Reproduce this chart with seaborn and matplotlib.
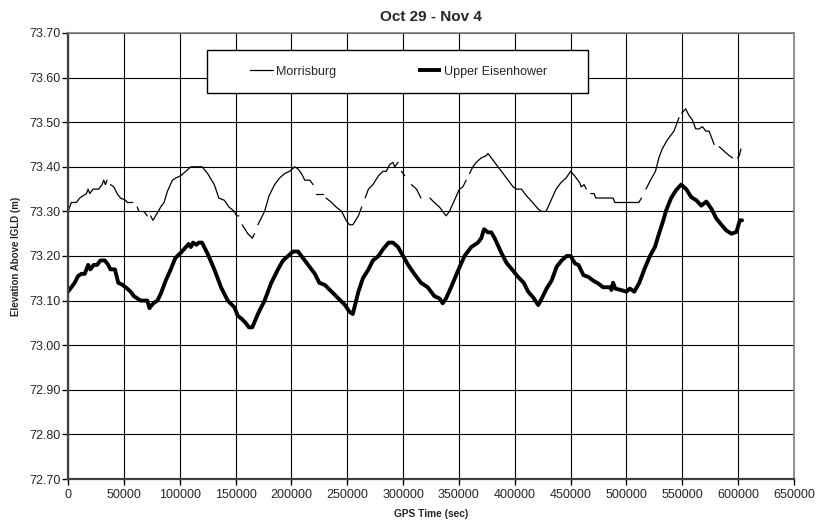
import numpy as np
import pandas as pd
import matplotlib
matplotlib.use("Agg")
import matplotlib.pyplot as plt
import seaborn as sns
from matplotlib.lines import Line2D
from matplotlib.patches import Rectangle

title = "Oct 29 - Nov 4"
x_label = "GPS Time (sec)"
y_label = "Elevation Above IGLD (m)"
series_names = ["Morrisburg", "Upper Eisenhower"]
x_ticks = list(range(0, 650001, 50000))
y_ticks = [72.70, 72.80, 72.90, 73.00, 73.10, 73.20, 73.30, 73.40, 73.50, 73.60, 73.70]
gap = np.nan

# Morrisburg (gaps in the record marked with nan)
morrisburg_t = [
    0, 3000, 7500, 10500, 16500, 18000, 19500, 22500, 27500, 30500, 32000, 33500, 35000, gap,
    38000, 41000, 44000, 47000, 51500, 53000, 58000, gap,
    62000, 63500, gap,
    68000, 71000, gap,
    74000, 76000, 78500, 83000, 86000, 89000, 93500, 96500, 101000, 105500, 110000, 113000,
    120000, 125000, 131000, 135000, 140000, 144000, 149000, 151000, 153000, gap,
    156000, 161000, 165000, 167000, gap,
    170000, 176000, 180000, 185000, 189500, 194000, 198500, 203000, 206000, 209000, 212000, 216500, 219500, gap,
    222000, 228000, gap,
    231000, 236000, 240000, 245000, 249000, 252000, 255000, 260000, 263000, gap,
    266000, 269000, 273000, 278000, 282000, 285000, 288000, 291000, 292500, 295500, gap,
    298500, 301500, gap,
    307500, 312000, 316000, gap,
    324000, 328000, 332500, 338500, 341500, 346000, 350500, 353500, 356500, gap,
    359500, 362500, 365500, 370000, 374500, 376000, 379000, 383500, 388000, 392500, 398500, 401500,
    406000, 410500, 416000, 421000, 424000, 428000, 432500, 437000, 441500, 446000, 450000, 453500,
    458000, 459500, 462000, 464000, gap,
    468000, 471000, 472500, 488000, 489500, 511000, 513500, gap,
    517500, 521500, 526000, 529000, 532000, 536500, 542500, 547000, gap,
    549500, 553000, 556000, 559000, 562000, 565000, 568000, 571000, 574000, 578500, gap,
    583000, 587500, 592000, 595000, gap,
    599500, 601000, 602500,
]
morrisburg_h = [
    73.30, 73.32, 73.32, 73.33, 73.34, 73.35, 73.34, 73.35, 73.35, 73.36, 73.37, 73.36, 73.37, gap,
    73.36, 73.355, 73.34, 73.33, 73.325, 73.32, 73.32, gap,
    73.31, 73.30, gap,
    73.30, 73.29, gap,
    73.29, 73.28, 73.29, 73.31, 73.32, 73.345, 73.37, 73.375, 73.38, 73.39, 73.40, 73.40,
    73.40, 73.385, 73.36, 73.33, 73.325, 73.31, 73.30, 73.29, 73.29, gap,
    73.27, 73.25, 73.24, 73.25, gap,
    73.27, 73.30, 73.335, 73.36, 73.375, 73.385, 73.39, 73.40, 73.395, 73.385, 73.37, 73.37, 73.36, gap,
    73.34, 73.34, gap,
    73.33, 73.32, 73.31, 73.30, 73.28, 73.27, 73.27, 73.29, 73.31, gap,
    73.33, 73.35, 73.36, 73.38, 73.39, 73.39, 73.405, 73.41, 73.40, 73.41, gap,
    73.39, 73.38, gap,
    73.36, 73.35, 73.33, gap,
    73.33, 73.32, 73.31, 73.29, 73.30, 73.325, 73.35, 73.355, 73.37, gap,
    73.385, 73.40, 73.41, 73.42, 73.425, 73.43, 73.42, 73.405, 73.39, 73.375, 73.355, 73.35,
    73.35, 73.335, 73.32, 73.305, 73.30, 73.30, 73.325, 73.35, 73.365, 73.375, 73.39, 73.38,
    73.365, 73.355, 73.36, 73.35, gap,
    73.34, 73.34, 73.33, 73.33, 73.32, 73.32, 73.33, gap,
    73.35, 73.37, 73.39, 73.42, 73.44, 73.46, 73.48, 73.51, gap,
    73.52, 73.53, 73.515, 73.505, 73.485, 73.485, 73.49, 73.48, 73.48, 73.45, gap,
    73.445, 73.435, 73.425, 73.42, gap,
    73.42, 73.425, 73.44,
]

# Upper Eisenhower
eisenhower_t = [
    0, 3000, 6000, 9000, 12000, 15000, 18000, 20000, 23000, 26000, 29000, 33000, 36000, 38000,
    42000, 45000, 49000, 53000, 56000, 59000, 65000, 71000, 73000, 75000, 77000, 80000, 83000,
    87500, 92000, 96000, 102000, 108000, 110000, 112000, 115000, 117000, 120000, 125000, 131000,
    137000, 143000, 149000, 152000, 156000, 159000, 162000, 165000, 170000, 176000, 182000, 188000,
    192500, 197000, 201500, 206000, 209000, 215000, 221000, 225000, 230000, 236000, 242000, 248000,
    252000, 255000, 256500, 260000, 264000, 269000, 273000, 278000, 282000, 287000, 291000, 295500,
    300000, 304500, 310000, 316000, 322000, 328000, 332500, 335500, 338500, 343000, 349000, 355000,
    361000, 367000, 370000, 372500, 376000, 379000, 382000, 388000, 392500, 397500, 403000, 408000,
    412000, 416500, 421000, 424000, 428500, 433000, 437500, 442000, 446500, 450000, 454000, 457000,
    461500, 466000, 470000, 475000, 479000, 485000, 486500, 488000, 490000, 496000, 500000, 503000,
    507000, 511500, 516000, 521000, 525500, 528500, 533000, 535500, 540000, 544500, 549000, 553500,
    558000, 562500, 567000, 571500, 576000, 580500, 585000, 589500, 594000, 598500, 601500, 603500,
]
eisenhower_h = [
    73.12, 73.13, 73.14, 73.155, 73.16, 73.16, 73.18, 73.17, 73.18, 73.18, 73.19, 73.19, 73.18, 73.17,
    73.17, 73.14, 73.135, 73.127, 73.12, 73.11, 73.10, 73.10, 73.083, 73.09, 73.095, 73.10, 73.115,
    73.145, 73.17, 73.195, 73.21, 73.227, 73.22, 73.23, 73.225, 73.23, 73.23, 73.205, 73.17,
    73.13, 73.10, 73.085, 73.066, 73.058, 73.05, 73.04, 73.04, 73.07, 73.10, 73.14, 73.17,
    73.19, 73.20, 73.21, 73.21, 73.20, 73.18, 73.16, 73.14, 73.135, 73.12, 73.105, 73.09,
    73.075, 73.07, 73.085, 73.12, 73.15, 73.17, 73.19, 73.20, 73.215, 73.23, 73.23, 73.22,
    73.20, 73.18, 73.16, 73.14, 73.13, 73.11, 73.105, 73.094, 73.105, 73.13, 73.166, 73.20,
    73.22, 73.23, 73.24, 73.26, 73.253, 73.253, 73.24, 73.207, 73.185, 73.17, 73.153, 73.14,
    73.12, 73.107, 73.09, 73.104, 73.127, 73.145, 73.176, 73.19, 73.20, 73.20, 73.183, 73.18,
    73.157, 73.153, 73.145, 73.138, 73.13, 73.13, 73.124, 73.14, 73.127, 73.123, 73.12, 73.127,
    73.12, 73.14, 73.17, 73.20, 73.22, 73.245, 73.28, 73.302, 73.33, 73.348, 73.36, 73.35,
    73.332, 73.325, 73.313, 73.322, 73.306, 73.284, 73.27, 73.257, 73.25, 73.254, 73.28, 73.28,
]


def to_frame(t, h):
    df = pd.DataFrame({"t": t, "h": h})
    df["seg"] = df["h"].isna().cumsum()
    return df.dropna()


morr = to_frame(morrisburg_t, morrisburg_h)
eis = to_frame(eisenhower_t, eisenhower_h)

sns.set_theme(style="white")
plt.rcParams["font.family"] = ["Liberation Sans", "DejaVu Sans"]

W, H = 818, 524
fig = plt.figure(figsize=(W / 100, H / 100), dpi=100)
L, R, T, B = 68, 794, 33, 479
ax = fig.add_axes([L / W, 1 - B / H, (R - L) / W, (B - T) / H])
ax.set_facecolor("white")

sns.lineplot(data=morr, x="t", y="h", units="seg", estimator=None, sort=False,
             color="black", lw=0.9, ax=ax, legend=False)
sns.lineplot(data=eis, x="t", y="h", units="seg", estimator=None, sort=False,
             color="black", lw=2.8, ax=ax, legend=False, solid_joinstyle="round")

ax.set_xlim(0, 650000)
ax.set_ylim(72.70, 73.70)
ax.set_xticks(x_ticks)
ax.set_xticklabels([str(v) for v in x_ticks])
ax.set_yticks(y_ticks)
ax.set_yticklabels([f"{v:.2f}" for v in y_ticks])
ax.grid(True, color="black", lw=0.8)
ax.set_axisbelow(True)
ax.tick_params(axis="x", which="major", direction="out", length=4, width=1,
               labelsize=9, color="black", pad=3, bottom=True)
ax.tick_params(axis="y", which="major", direction="out", length=4, width=1,
               labelsize=9, color="black", pad=1.5, left=True)

for side in ["top", "right"]:
    ax.spines[side].set_color("#808080")
    ax.spines[side].set_linewidth(1.2)
for side in ["left", "bottom"]:
    ax.spines[side].set_color("#404040")
    ax.spines[side].set_linewidth(1.6)

ax.set_xlabel(x_label, fontsize=7.3, fontweight="bold", labelpad=6)
ax.set_ylabel(y_label, fontsize=7, fontweight="bold", labelpad=6)
fig.text((L + R) / 2 / W, 1 - 17 / H, title, fontsize=11, fontweight="bold",
         ha="center", va="center")

# legend box
bx0, bx1, by0, by1 = 207, 588, 50, 93
ax.add_patch(Rectangle(((bx0 - L) / (R - L), (B - by1) / (B - T)),
                       (bx1 - bx0) / (R - L), (by1 - by0) / (B - T),
                       transform=ax.transAxes, facecolor="white", edgecolor="black",
                       lw=1.0, zorder=5))
handles = [Line2D([], [], color="black", lw=0.9),
           Line2D([], [], color="black", lw=2.8, solid_capstyle="butt")]
leg = ax.legend(handles, series_names, ncol=2, frameon=False, fontsize=9,
                loc="center left",
                bbox_to_anchor=((250 - L) / (R - L), (B - (by0 + by1) / 2) / (B - T)),
                borderaxespad=0, borderpad=0, handlelength=1.8, handletextpad=0.25,
                columnspacing=6.6)
leg.set_zorder(6)

fig.savefig("out.png", dpi=100)
